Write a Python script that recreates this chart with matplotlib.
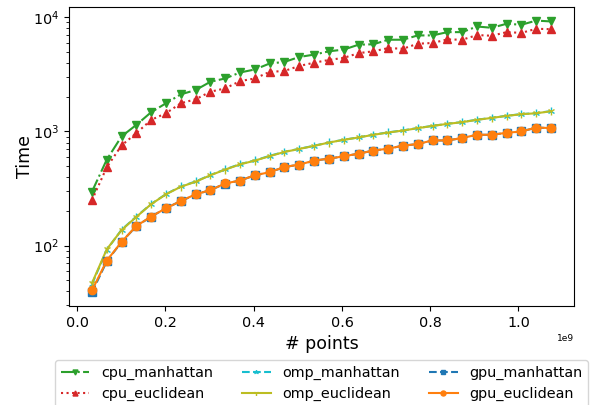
import numpy as np
import matplotlib
matplotlib.use("Agg")
import matplotlib.pyplot as plt

# Problem sizes: multiples of 2**25 points
n_points = [k * 2**25 for k in range(1, 33)]

cpu_manhattan = [297, 567, 906, 1143, 1475, 1766, 2114, 2305, 2725, 2913,
                 3285, 3490, 3937, 4064, 4490, 4709, 5034, 5210, 5751, 5800,
                 6357, 6357, 6934, 6934, 7410, 7410, 8300, 8086, 8770, 8600,
                 9350, 9190]
cpu_euclidean = [250, 486, 755, 968, 1264, 1445, 1766, 1915, 2229, 2385,
                 2760, 2913, 3325, 3388, 3747, 4000, 4230, 4410, 4850, 5034,
                 5370, 5300, 5870, 5950, 6400, 6357, 6980, 6890, 7410, 7300,
                 7930, 7860]
omp_manhattan = [46, 92, 138, 180, 232, 283, 330, 365, 416, 466,
                 518, 558, 612, 664, 705, 750, 802, 846, 888, 938,
                 982, 1022, 1072, 1120, 1168, 1210, 1268, 1318, 1372, 1420,
                 1448, 1508]
omp_euclidean = [47, 93, 137, 179, 231, 282, 328, 363, 414, 464,
                 515, 556, 608, 662, 703, 748, 800, 845, 886, 935,
                 979, 1019, 1069, 1118, 1166, 1206, 1264, 1315, 1369, 1416,
                 1444, 1503]
gpu_manhattan = [39, 73, 108, 148, 180, 213, 246, 281, 307, 350,
                 372, 413, 440, 488, 513, 555, 579, 605, 640, 680,
                 708, 750, 777, 834, 834, 876, 935, 935, 973, 1000,
                 1082, 1069]
gpu_euclidean = [40.6, 74, 108, 149, 180, 213, 246, 282, 307, 351,
                 372, 414, 440, 489, 513, 556, 579, 606, 640, 680,
                 708, 751, 777, 835, 835, 877, 936, 936, 974, 1000,
                 1083, 1070]

series = [
    ("cpu_manhattan", cpu_manhattan, "tab:green", "-.", "v"),
    ("cpu_euclidean", cpu_euclidean, "tab:red", ":", "^"),
    ("omp_manhattan", omp_manhattan, "tab:cyan", "--", "2"),
    ("omp_euclidean", omp_euclidean, "tab:olive", "-", "1"),
    ("gpu_manhattan", gpu_manhattan, "tab:blue", "--", "s"),
    ("gpu_euclidean", gpu_euclidean, "tab:orange", "-", "o"),
]

fig = plt.figure(figsize=(5.98, 4.05), dpi=100)
ax = fig.add_axes([69 / 598, 1 - 306 / 405, (574 - 69) / 598, (306 - 7) / 405])

for name, vals, color, ls, mk in series:
    ax.plot(n_points, vals, color=color, linestyle=ls, marker=mk, label=name)

ax.set_yscale("log")
ax.set_xlabel("# points", fontsize=12.5)
ax.set_ylabel("Time", fontsize=12.5, labelpad=-1)
ax.tick_params(labelsize=10.4)
ax.xaxis.get_offset_text().set_fontsize(6.5)

ax.legend(loc="upper center", bbox_to_anchor=(0.5, -0.157), ncol=3,
          fontsize=10.4, markerscale=0.6)

fig.savefig("out.png", dpi=100)
